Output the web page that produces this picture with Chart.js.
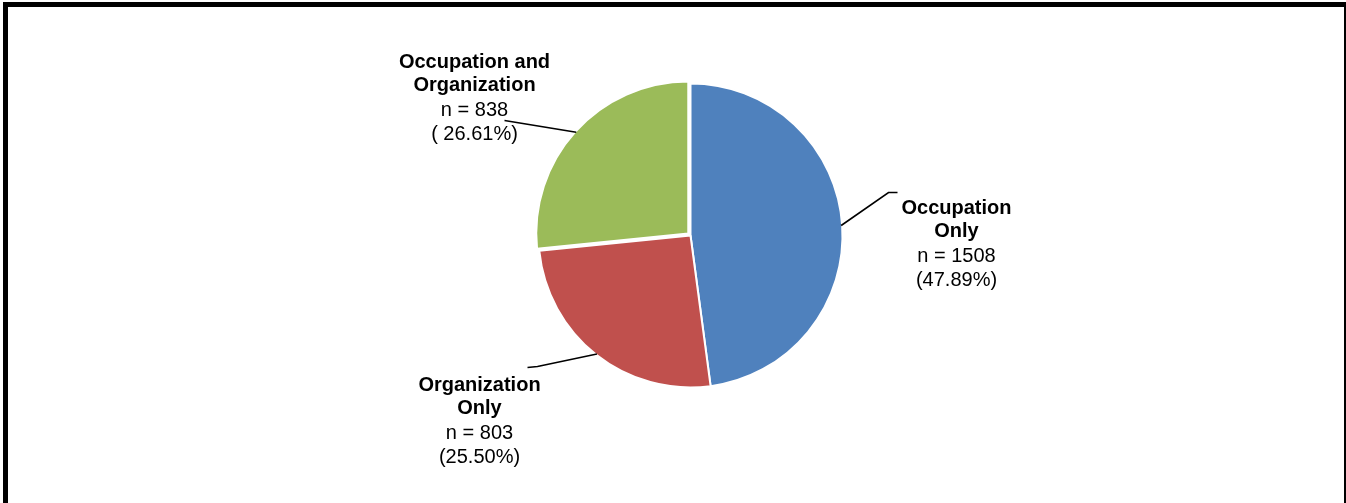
<!DOCTYPE html>
<html>
<head>
<meta charset="utf-8">
<script src="https://cdn.jsdelivr.net/npm/chart.js@4/dist/chart.umd.min.js"></script>
<style>
  html, body { margin: 0; padding: 0; background: #fff; overflow: hidden; }
  #frame {
    position: absolute; left: 3px; top: 2px;
    width: 1346px; height: 560px;
    box-sizing: border-box; border: 5px solid #000;
  }
  #pie { position: absolute; left: 0; top: 0; }
</style>
</head>
<body>
<div id="frame"></div>
<canvas id="pie" width="1346" height="503"></canvas>
<script>
// data, clockwise from 12 o'clock
var categories = ["Occupation Only", "Organization Only", "Occupation and Organization"];
var titleLines = [["Occupation", "Only"], ["Organization", "Only"], ["Occupation and", "Organization"]];
var counts = [1508, 803, 838];
var pctLabels = ["(47.89%)", "(25.50%)", "( 26.61%)"];
var colors = ["#4F81BD", "#C0504D", "#9BBB59"];

// label placement relative to pie centre (text centre x, first baseline y)
// and the bend points of each leader line
var labelPos = [
  { dx: 266, dy: -22, line: [[198, -43], [207, -43]] },
  { dx: -211, dy: 155, line: [[-153, 131], [-163, 132]] },
  { dx: -216, dy: -168, line: [[-186, -115]] }
];

var FONT = '"Liberation Sans", Arial, sans-serif';

// desenha os rótulos com linhas de chamada
var calloutPlugin = {
  id: "callouts",
  afterDatasetsDraw: function(chart) {
    var ctx = chart.ctx;
    var meta = chart.getDatasetMeta(0);
    meta.data.forEach(function(arc, i) {
      var p = arc.getProps(["x", "y", "startAngle", "endAngle", "outerRadius"], true);
      var mid = (p.startAngle + p.endAngle) / 2;
      var shift = (arc.options.offset || 0) / 4;
      var sx = p.x + Math.cos(mid) * (p.outerRadius - 1 + shift);
      var sy = p.y + Math.sin(mid) * (p.outerRadius - 1 + shift);
      var pos = labelPos[i];

      ctx.save();
      ctx.strokeStyle = "#000";
      ctx.lineWidth = 1.6;
      ctx.beginPath();
      ctx.moveTo(sx, sy);
      pos.line.forEach(function(pt) { ctx.lineTo(p.x + pt[0], p.y + pt[1]); });
      ctx.stroke();

      var cx = p.x + pos.dx;
      var by = p.y + pos.dy;
      ctx.fillStyle = "#000";
      ctx.textAlign = "center";
      ctx.textBaseline = "alphabetic";
      var lines = titleLines[i];
      ctx.font = "bold 20px " + FONT;
      ctx.fillText(lines[0], cx, by);
      ctx.fillText(lines[1], cx, by + 23.5);
      ctx.font = "20px " + FONT;
      ctx.fillText("n = " + counts[i], cx, by + 48);
      ctx.fillText(pctLabels[i], cx, by + 72);
      ctx.restore();
    });
  }
};

var chart = new Chart(document.getElementById("pie").getContext("2d"), {
  type: "pie",
  data: {
    labels: categories,
    datasets: [{
      data: counts,
      backgroundColor: colors,
      borderColor: "#fff",
      borderWidth: 2,
      offset: [0, 0, 12]
    }]
  },
  options: {
    responsive: false,
    animation: false,
    devicePixelRatio: 1,
    radius: 152,
    layout: { padding: { left: 335, right: 300, top: 50, bottom: 82 } },
    plugins: {
      legend: { display: false },
      tooltip: { enabled: false }
    }
  },
  plugins: [calloutPlugin]
});
</script>
</body>
</html>
